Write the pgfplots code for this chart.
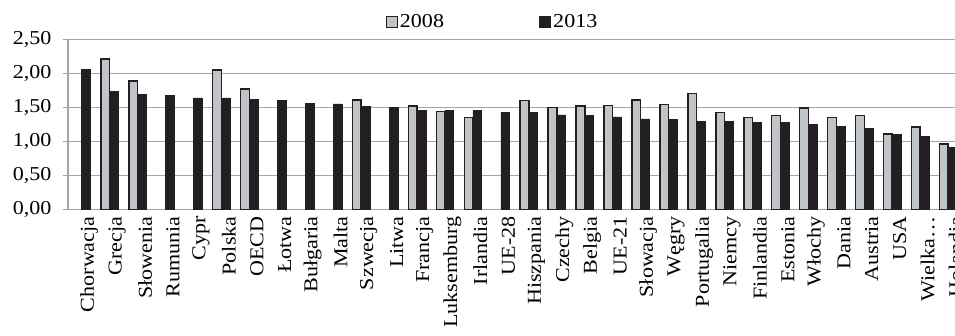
\documentclass[border=0pt]{standalone}
\usepackage{fontspec}
\setmainfont{Liberation Serif}[FakeStretch=1.12]
\usepackage{pgfplots}
\usepackage{pgfplotstable}
\pgfplotsset{compat=1.18}
\definecolor{gridgray}{HTML}{A0A5AA}
\definecolor{barlight}{HTML}{BFC4C9}
\definecolor{bardark}{HTML}{231F20}
\pgfplotstableread{
x y
1 2.21
2 1.89
5 2.05
6 1.77
10 1.61
12 1.52
13 1.44
14 1.35
16 1.60
17 1.50
18 1.52
19 1.53
20 1.61
21 1.54
22 1.70
23 1.42
24 1.35
25 1.38
26 1.49
27 1.35
28 1.38
29 1.11
30 1.21
31 0.96
}\dataA
\pgfplotstableread{
x y
0 2.06
1 1.73
2 1.69
3 1.68
4 1.64
5 1.64
6 1.62
7 1.60
8 1.56
9 1.55
10 1.51
11 1.50
12 1.46
13 1.45
14 1.45
15 1.43
16 1.43
17 1.39
18 1.38
19 1.36
20 1.33
21 1.32
22 1.29
23 1.29
24 1.28
25 1.28
26 1.25
27 1.22
28 1.19
29 1.10
30 1.07
31 0.91
}\dataB
\begin{document}
\begin{tikzpicture}
\begin{axis}[name=ax, scale only axis, width=894.4bp, height=170bp,
  ybar=0pt, bar width=8.7bp,
  xmin=-0.5, xmax=31.5, ymin=0, ymax=2.5,
  ytick={0,0.5,1,1.5,2,2.5},
  yticklabels={{0,00},{0,50},{1,00},{1,50},{2,00},{2,50}},
  xtick={0,...,31},
  xticklabels={Chorwacja,Grecja,Słowenia,Rumunia,Cypr,Polska,OECD,Łotwa,Bułgaria,Malta,Szwecja,Litwa,Francja,Luksemburg,Irlandia,UE-28,Hiszpania,Czechy,Belgia,UE-21,Słowacja,Węgry,Portugalia,Niemcy,Finlandia,Estonia,Włochy,Dania,Austria,USA,Wielka…,Holandia},
  minor xtick={-0.5,0.5,...,31.5},
  ymajorgrids, grid style={gridgray, line width=1.6bp},
  axis lines*=left, axis line style={gridgray, line width=1.6bp},
  tick align=outside, major tick length=5bp, minor tick length=5bp,
  xtick style={draw=none},
  ytick style={gridgray, line width=1.6bp},
  minor x tick style={gridgray, line width=1.6bp},
  y tick label style={font=\fontsize{19.7bp}{23bp}\selectfont, text=black, xshift=-7.8bp},
  x tick label style={font=\fontsize{19.7bp}{23bp}\selectfont, text=black, rotate=90, anchor=east, inner sep=2bp, yshift=-7.5bp},
  legend style={draw=none, fill=none, at={(axis description cs:0.475,1.102)}, anchor=center,
    legend columns=2, font=\fontsize{19.7bp}{23bp}\selectfont,
    /tikz/every even column/.append style={column sep=93bp}},
  legend image code/.code={\draw[#1, line width=1.2bp] (0bp,-5.5bp) rectangle (11bp,5.5bp);},
  clip=false,
]
\addplot[fill=barlight, draw=bardark, line width=1.5bp] table[x=x,y=y] {\dataA};
\addplot[fill=bardark, draw=bardark, line width=0.5bp] table[x=x,y=y] {\dataB};
\legend{2008,2013}
\end{axis}
\pgfresetboundingbox
\path ([xshift=-67.7bp,yshift=-126.7bp]ax.south west) rectangle ++(955bp,336bp);
\end{tikzpicture}
\end{document}
